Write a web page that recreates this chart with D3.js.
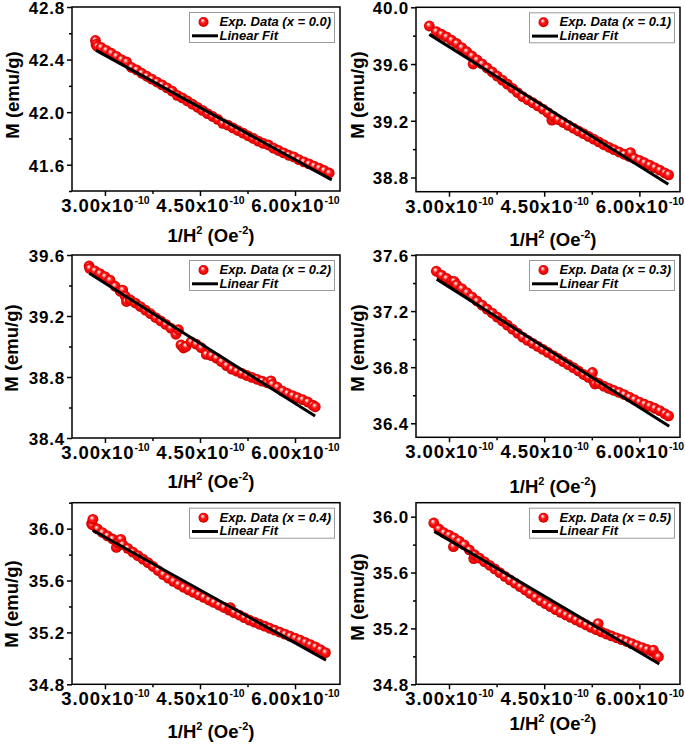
<!DOCTYPE html>
<html><head><meta charset="utf-8">
<script src="https://cdn.jsdelivr.net/npm/d3@7"></script>
<style>
html,body{margin:0;padding:0;background:#fff;}
svg{display:block;font-family:"Liberation Sans",Arial,Helvetica,sans-serif;}
</style></head><body>
<svg id="chart" width="685" height="744"></svg>
<script>
// ---------------- DATA ----------------
const legendLabels = ["Exp. Data (x = 0.0)", "Exp. Data (x = 0.1)", "Exp. Data (x = 0.2)",
                      "Exp. Data (x = 0.3)", "Exp. Data (x = 0.4)", "Exp. Data (x = 0.5)"];
const fitLabel = "Linear Fit";
const xAxisTitle = "1/H";
const yAxisTitle = "M (emu/g)";
const xTickValues = [3.0, 4.5, 6.0];
const xMinorTicks = [2.25, 3.75, 5.25, 6.75];
const xTickLabels = ["3.00x10", "4.50x10", "6.00x10"];
const xTickExponent = "-10";

// x in units of 1e-10 Oe^-2, M in emu/g
const x00 = [2.85,2.86,2.88,2.94,3.02,3.10,3.18,3.26,3.34,3.42,3.50,3.58,3.66,3.74,3.82,3.90,3.98,4.06,4.14,4.22,4.30,4.38,4.46,4.54,4.62,4.70,4.78,4.86,4.94,5.02,5.10,5.18,5.26,5.34,5.42,5.50,5.58,5.66,5.74,5.82,5.90,5.98,6.06,6.14,6.22,6.30,6.38,6.46,6.54];
const m00 = [42.545,42.515,42.500,42.492,42.470,42.448,42.425,42.400,42.382,42.340,42.322,42.296,42.273,42.251,42.229,42.207,42.185,42.160,42.128,42.109,42.085,42.061,42.037,42.013,41.989,41.967,41.945,41.915,41.901,41.880,41.860,41.840,41.820,41.800,41.780,41.762,41.750,41.726,41.708,41.690,41.672,41.660,41.638,41.622,41.606,41.590,41.574,41.556,41.537];
const fitX00 = [2.86, 6.58], fitM00 = [42.47, 41.485];
const yMajor00 = [41.6, 42.0, 42.4, 42.8], yMinor00 = [41.4, 41.8, 42.2, 42.6];

const x01 = [2.69,2.80,2.88,2.96,3.04,3.12,3.20,3.28,3.36,3.38,3.44,3.52,3.60,3.68,3.76,3.84,3.92,4.00,4.08,4.16,4.24,4.32,4.40,4.48,4.56,4.62,4.64,4.72,4.80,4.88,4.96,5.04,5.12,5.20,5.28,5.36,5.44,5.52,5.60,5.68,5.76,5.84,5.86,5.92,6.00,6.08,6.16,6.24,6.32,6.40,6.46];
const m01 = [39.868,39.829,39.810,39.791,39.768,39.745,39.716,39.687,39.657,39.600,39.629,39.601,39.572,39.544,39.515,39.487,39.458,39.429,39.399,39.370,39.348,39.327,39.305,39.282,39.257,39.205,39.232,39.208,39.188,39.168,39.148,39.128,39.109,39.089,39.070,39.051,39.031,39.013,38.996,38.980,38.964,38.949,38.975,38.935,38.921,38.904,38.887,38.870,38.852,38.833,38.819];
const fitX01 = [2.69, 6.456], fitM01 = [39.809, 38.752];
const yMajor01 = [38.8, 39.2, 39.6, 40.0], yMinor01 = [39.0, 39.4, 39.8];

const x02 = [2.75,2.76,2.84,2.92,3.00,3.08,3.16,3.24,3.28,3.32,3.34,3.40,3.48,3.56,3.64,3.72,3.80,3.88,3.96,4.04,4.12,4.16,4.20,4.24,4.28,4.36,4.44,4.52,4.60,4.68,4.76,4.84,4.92,5.00,5.08,5.16,5.24,5.32,5.40,5.48,5.56,5.62,5.64,5.72,5.80,5.88,5.96,6.04,6.12,6.20,6.28,6.32];
const m02 = [39.528,39.512,39.496,39.478,39.458,39.435,39.395,39.362,39.370,39.330,39.295,39.305,39.285,39.262,39.238,39.215,39.190,39.168,39.145,39.120,39.080,39.110,39.010,38.990,39.000,39.030,39.015,38.992,38.948,38.940,38.924,38.900,38.875,38.852,38.838,38.824,38.810,38.797,38.785,38.773,38.762,38.775,38.752,38.733,38.708,38.692,38.678,38.664,38.651,38.636,38.615,38.605];
const fitX02 = [2.753, 6.317], fitM02 = [39.48, 38.544];
const yMajor02 = [38.4, 38.8, 39.2, 39.6], yMinor02 = [38.6, 39.0, 39.4];

const x03 = [2.80,2.88,2.96,3.04,3.08,3.12,3.20,3.28,3.36,3.44,3.52,3.60,3.68,3.76,3.84,3.92,4.00,4.08,4.16,4.24,4.32,4.40,4.48,4.56,4.64,4.72,4.80,4.88,4.96,5.04,5.12,5.20,5.26,5.28,5.30,5.36,5.44,5.52,5.60,5.68,5.76,5.84,5.92,6.00,6.08,6.16,6.24,6.32,6.40,6.46];
const m03 = [37.484,37.456,37.433,37.411,37.412,37.387,37.360,37.332,37.302,37.272,37.243,37.214,37.186,37.157,37.129,37.100,37.071,37.043,37.014,36.991,36.970,36.948,36.927,36.905,36.883,36.862,36.840,36.818,36.797,36.773,36.748,36.727,36.762,36.700,36.680,36.684,36.664,36.649,36.634,36.620,36.605,36.587,36.569,36.551,36.536,36.522,36.507,36.490,36.469,36.453];
const fitX03 = [2.806, 6.47], fitM03 = [37.428, 36.379];
const yMajor03 = [36.4, 36.8, 37.2, 37.6], yMinor03 = [36.6, 37.0, 37.4];

const x04 = [2.79,2.80,2.81,2.88,2.96,3.04,3.12,3.18,3.20,3.25,3.28,3.36,3.44,3.52,3.60,3.68,3.76,3.84,3.92,4.00,4.08,4.16,4.24,4.32,4.40,4.48,4.56,4.64,4.72,4.80,4.88,4.96,4.98,5.04,5.12,5.20,5.28,5.36,5.44,5.52,5.60,5.68,5.76,5.84,5.92,6.00,6.08,6.16,6.24,6.32,6.40,6.48];
const m04 = [36.040,36.030,36.072,35.998,35.970,35.944,35.920,35.855,35.890,35.918,35.877,35.848,35.819,35.792,35.765,35.738,35.708,35.677,35.646,35.618,35.594,35.571,35.548,35.528,35.508,35.489,35.470,35.450,35.431,35.411,35.392,35.372,35.390,35.353,35.334,35.314,35.295,35.279,35.263,35.248,35.232,35.217,35.202,35.187,35.171,35.156,35.140,35.123,35.106,35.089,35.067,35.044];
const fitX04 = [2.807, 6.49], fitM04 = [35.988, 34.986];
const yMajor04 = [34.8, 35.2, 35.6, 36.0], yMinor04 = [35.0, 35.4, 35.8, 36.2];

const x05 = [2.76,2.84,2.92,3.00,3.07,3.08,3.16,3.24,3.32,3.39,3.40,3.48,3.56,3.64,3.72,3.80,3.88,3.96,4.04,4.12,4.20,4.28,4.36,4.44,4.52,4.60,4.68,4.76,4.84,4.92,5.00,5.08,5.16,5.24,5.32,5.35,5.40,5.48,5.56,5.64,5.72,5.80,5.88,5.96,6.04,6.12,6.20,6.22,6.28,6.30];
const m05 = [35.955,35.912,35.885,35.868,35.785,35.848,35.825,35.798,35.762,35.700,35.728,35.703,35.677,35.652,35.626,35.599,35.573,35.548,35.524,35.499,35.475,35.450,35.424,35.399,35.377,35.356,35.334,35.315,35.297,35.279,35.261,35.243,35.225,35.207,35.191,35.235,35.175,35.160,35.146,35.133,35.120,35.106,35.091,35.077,35.063,35.049,35.035,35.045,35.005,34.997];
const fitX05 = [2.768, 6.314], fitM05 = [35.895, 34.945];
const yMajor05 = [34.8, 35.2, 35.6, 36.0], yMinor05 = [35.0, 35.4, 35.8];

// ---------------- LAYOUT (pixels / axis ranges) ----------------
const layout = [
  {left:72,  top:7,     right:340, bottom:191,   xDom:[2.48,6.71], yDom:[41.4,42.8], yT:[12,95],   xTY:242},
  {left:416, top:7.3,   right:680, bottom:191.7, xDom:[2.48,6.64], yDom:[38.7,40.0], yT:[357,95],  xTY:246},
  {left:72,  top:255,   right:340, bottom:438,   xDom:[2.48,6.71], yDom:[38.4,39.6], yT:[11,348],  xTY:488},
  {left:416, top:255,   right:680, bottom:437.3, xDom:[2.48,6.64], yDom:[36.3,37.6], yT:[357,348], xTY:493},
  {left:72,  top:502.7, right:340, bottom:684.3, xDom:[2.48,6.71], yDom:[34.8,36.2], yT:[11,604],  xTY:738},
  {left:416, top:502.7, right:680, bottom:684.3, xDom:[2.48,6.64], yDom:[34.8,36.1], yT:[357,597], xTY:730}
];
const series = [
  {x:x00, m:m00, fx:fitX00, fm:fitM00, maj:yMajor00, min:yMinor00},
  {x:x01, m:m01, fx:fitX01, fm:fitM01, maj:yMajor01, min:yMinor01},
  {x:x02, m:m02, fx:fitX02, fm:fitM02, maj:yMajor02, min:yMinor02},
  {x:x03, m:m03, fx:fitX03, fm:fitM03, maj:yMajor03, min:yMinor03},
  {x:x04, m:m04, fx:fitX04, fm:fitM04, maj:yMajor04, min:yMinor04},
  {x:x05, m:m05, fx:fitX05, fm:fitM05, maj:yMajor05, min:yMinor05}
];

const svg = d3.select("#chart");
svg.append("rect").attr("width",685).attr("height",744).attr("fill","#fff");

const defs = svg.append("defs");
const grad = defs.append("radialGradient").attr("id","sphere")
  .attr("cx","50%").attr("cy","50%").attr("r","50%").attr("fx","38%").attr("fy","32%");
grad.append("stop").attr("offset","0%").attr("stop-color","#ffffff");
grad.append("stop").attr("offset","18%").attr("stop-color","#ffb0b0");
grad.append("stop").attr("offset","45%").attr("stop-color","#ff1a1a");
grad.append("stop").attr("offset","85%").attr("stop-color","#ee0000");
grad.append("stop").attr("offset","100%").attr("stop-color","#b00000");

const R = 5.4;

layout.forEach((L, i) => {
  const S = series[i];
  const g = svg.append("g");
  const x = d3.scaleLinear().domain(L.xDom).range([L.left, L.right]);
  const y = d3.scaleLinear().domain(L.yDom).range([L.bottom, L.top]);

  const clipId = "clip" + i;
  defs.append("clipPath").attr("id", clipId).append("rect")
    .attr("x", L.left).attr("y", L.top).attr("width", L.right - L.left).attr("height", L.bottom - L.top);

  // data points
  const pts = d3.range(Math.min(S.x.length, S.m.length)).map(k => [S.x[k], S.m[k]]);
  g.append("g").attr("clip-path", `url(#${clipId})`).selectAll("circle").data(pts).join("circle")
    .attr("cx", d => x(d[0])).attr("cy", d => y(d[1])).attr("r", R)
    .attr("fill", "url(#sphere)");

  // fit line
  const fitPts = S.fx.map((v, k) => [v, S.fm[k]]);
  g.append("path").datum(fitPts)
    .attr("d", d3.line().x(d => x(d[0])).y(d => y(d[1])))
    .attr("stroke", "#000").attr("stroke-width", 3).attr("fill", "none");

  // axes
  const yAx = g.append("g").attr("transform", `translate(${L.left},0)`)
    .call(d3.axisLeft(y).tickValues(S.maj).tickSize(5).tickSizeOuter(0).tickPadding(2).tickFormat(d3.format(".1f")));
  const yAxMin = g.append("g").attr("transform", `translate(${L.left},0)`)
    .call(d3.axisLeft(y).tickValues(S.min).tickSize(3).tickSizeOuter(0).tickFormat(""));
  const xAx = g.append("g").attr("transform", `translate(0,${L.bottom})`)
    .call(d3.axisBottom(x).tickValues(xTickValues).tickSize(5).tickSizeOuter(0).tickPadding(3)
      .tickFormat((d, k) => xTickLabels[k]));
  const xAxMin = g.append("g").attr("transform", `translate(0,${L.bottom})`)
    .call(d3.axisBottom(x).tickValues(xMinorTicks.filter(v => v > L.xDom[0] && v < L.xDom[1]))
      .tickSize(3).tickSizeOuter(0).tickFormat(""));
  [yAx, yAxMin, xAx, xAxMin].forEach(a => {
    a.select(".domain").remove();
    a.selectAll(".tick line").attr("stroke", "#000").attr("stroke-width", 1.5);
  });
  yAx.selectAll(".tick text").attr("font-size", 17).attr("font-weight", "bold")
    .attr("font-family", "'Liberation Sans', Arial, sans-serif").attr("fill", "#000")
    .attr("letter-spacing", 0.8).attr("dy", "0.37em");
  xAx.selectAll(".tick text").each(function(d, k) {
    const t = d3.select(this);
    const lab = xTickLabels[k];
    t.text(null).attr("font-size", 18.5).attr("font-weight", "bold")
      .attr("font-family", "'Liberation Sans', Arial, sans-serif").attr("fill", "#000")
      .attr("letter-spacing", 0.9);
    t.append("tspan").text(lab);
    t.append("tspan").attr("dy", -8).attr("font-size", 10.5).attr("letter-spacing", 0).text(xTickExponent);
  });

  // frame
  g.append("rect").attr("x", L.left).attr("y", L.top)
    .attr("width", L.right - L.left).attr("height", L.bottom - L.top)
    .attr("fill", "none").attr("stroke", "#000").attr("stroke-width", 1.5);

  // axis titles
  const xt = g.append("text").attr("x", (L.left + L.right) / 2 + 5).attr("y", L.xTY)
    .attr("text-anchor", "middle").attr("font-size", 18.5).attr("font-weight", "bold").attr("fill", "#000");
  xt.append("tspan").text(xAxisTitle);
  xt.append("tspan").attr("dy", -8).attr("font-size", 11).text("2");
  xt.append("tspan").attr("dy", 8).text(" (Oe");
  xt.append("tspan").attr("dy", -8).attr("font-size", 11).text("-2");
  xt.append("tspan").attr("dy", 8).text(")");

  g.append("text").attr("transform", `translate(${L.yT[0]},${L.yT[1]}) rotate(-90)`)
    .attr("text-anchor", "middle").attr("dominant-baseline", "central")
    .attr("font-size", 18.5).attr("font-weight", "bold").attr("fill", "#000").text(yAxisTitle);

  // legend
  const bw = 145, bh = 30;
  const bx = L.right - 5.5 - bw, by = L.top + 5.5;
  const lg = g.append("g");
  lg.append("rect").attr("x", bx).attr("y", by).attr("width", bw).attr("height", bh)
    .attr("fill", "#fff").attr("stroke", "#9a9a9a").attr("stroke-width", 1);
  lg.append("circle").attr("cx", bx + 14).attr("cy", by + 9.5).attr("r", 5).attr("fill", "url(#sphere)");
  lg.append("line").attr("x1", bx + 2.5).attr("x2", bx + 28.5).attr("y1", by + 23.3).attr("y2", by + 23.3)
    .attr("stroke", "#000").attr("stroke-width", 3);
  lg.append("text").attr("x", bx + 30).attr("y", by + 13.5).attr("font-size", 13)
    .attr("font-weight", "bold").attr("font-style", "italic").attr("fill", "#000").text(legendLabels[i]);
  lg.append("text").attr("x", bx + 30).attr("y", by + 27).attr("font-size", 13)
    .attr("font-weight", "bold").attr("font-style", "italic").attr("fill", "#000").text(fitLabel);
});
</script>
</body></html>
